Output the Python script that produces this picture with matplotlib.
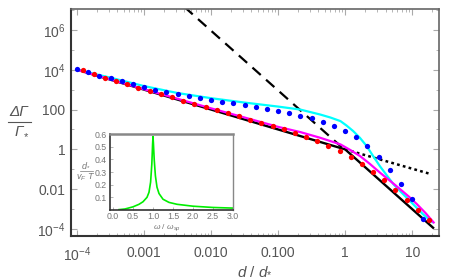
import matplotlib
matplotlib.use("Agg")
import matplotlib.pyplot as plt
from matplotlib.ticker import FixedLocator, FixedFormatter, NullFormatter
from matplotlib.lines import Line2D

plt.rcParams['font.family'] = ['Liberation Sans', 'DejaVu Sans']
plt.rcParams['mathtext.fontset'] = 'custom'
plt.rcParams['mathtext.rm'] = 'Liberation Sans'
plt.rcParams['mathtext.it'] = 'Liberation Sans:italic'
plt.rcParams['mathtext.bf'] = 'Liberation Sans:bold'

# ---------------- data ----------------
blue_d = [1.0e-4, 1.468e-4, 2.154e-4, 3.162e-4, 4.642e-4, 6.813e-4,
          1.0e-3, 1.468e-3, 2.154e-3, 3.162e-3, 4.642e-3, 6.813e-3,
          0.01, 0.01468, 0.02154, 0.03162, 0.04642, 0.06813,
          0.1, 0.1468, 0.2154, 0.3162, 0.4642, 0.6813,
          1.0, 1.468, 2.154, 3.162, 4.642, 6.813, 10.0, 14.68]
blue_y = [10700, 7590, 5130, 3630, 2570, 1820,
          1350, 1000, 794, 575, 457, 363,
          288, 240, 204, 170, 141, 112,
          85, 68, 50, 38, 24, 14.5,
          8.1, 4.0, 1.45, 0.42, 0.093, 0.018, 0.0032, 3.2e-4]

red_d = [1.212e-4, 1.778e-4, 2.610e-4, 3.831e-4, 5.623e-4, 8.254e-4,
         1.212e-3, 1.778e-3, 2.610e-3, 3.831e-3, 5.623e-3, 8.254e-3,
         0.01212, 0.01778, 0.02610, 0.03831, 0.05623, 0.08254,
         0.1212, 0.1778, 0.2610, 0.3831, 0.5623, 0.8254,
         1.212, 1.778, 2.610, 3.831, 5.623, 8.254, 12.12, 17.78]
red_y = [9330, 6170, 3800, 2820, 1910, 1200,
         891, 603, 407, 282, 200, 135,
         100, 66, 47, 31.6, 21.4, 14.8,
         10, 6.8, 4.3, 2.6, 1.48, 0.83,
         0.43, 0.19, 0.076, 0.028, 0.0093, 0.00295, 0.00093, 2.8e-4]

cyan_d = [1e-4, 3.16e-4, 1e-3, 3.16e-3, 0.01, 0.0316, 0.1, 0.214, 0.427, 0.603,
          0.851, 1.047, 1.318, 1.66, 2.09, 2.63, 3.31, 4.17, 5.25, 7.08, 9.33,
          14.45, 19.95]
cyan_y = [1e4, 3980, 1510, 676, 372, 224, 141, 100, 56, 39.8,
          26.3, 15.8, 8.3, 3.8, 1.48, 0.447, 0.141, 0.0501, 0.0178, 0.0063, 0.00251,
          5.6e-4, 2.24e-4]

magenta_d = [1e-4, 1e-3, 0.01, 0.0316, 0.1, 0.214, 0.427, 0.851, 1.175,
             1.66, 2.34, 3.31, 4.68, 6.61, 8.91, 11.75, 15.85, 20.9]
magenta_y = [1e4, 1047, 115, 39.8, 13.5, 7.41, 3.8, 1.78, 0.955,
             0.468, 0.186, 0.0676, 0.0263, 0.01, 0.00427, 0.00178, 6.3e-4, 2.14e-4]

black_d = [1e-4, 1.0, 20.5]
black_y = [1e4, 1.0, 1.16e-4]

dashed_d = [0.004, 0.89]
dashed_y = [1.42e7, 1.29]

dotted_d = [1.0, 19.5]
dotted_y = [1.0, 0.056]

x_ticks = [1e-4, 1e-3, 1e-2, 1e-1, 1, 10]
x_tick_labels = [r'$10^{-4}$', '0.001', '0.010', '0.100', '1', '10']
y_ticks = [1e-4, 1e-2, 1, 100, 1e4, 1e6]
y_tick_labels = [r'$10^{-4}$', '0.01', '1', '100', r'$10^{4}$', r'$10^{6}$']

inset_w = [0.15, 0.3, 0.5, 0.65, 0.75, 0.85, 0.9, 0.94, 0.97, 0.99, 1.0,
           1.01, 1.03, 1.06, 1.1, 1.15, 1.25, 1.4, 1.6, 2.0, 2.5, 3.0]
inset_v = [0.003, 0.008, 0.025, 0.045, 0.065, 0.1, 0.14, 0.22, 0.36, 0.52, 0.58,
           0.53, 0.4, 0.27, 0.18, 0.13, 0.085, 0.06, 0.045, 0.03, 0.02, 0.015]
inset_xticks = [0.0, 0.5, 1.0, 1.5, 2.0, 2.5, 3.0]
inset_yticks = [0.1, 0.2, 0.3, 0.4, 0.5, 0.6]

# ---------------- figure ----------------
fig = plt.figure(figsize=(4.5, 2.8), dpi=100)
ax = fig.add_axes([71/450, 44/280, 368/450, 227/280])

txt = '#555555'
ax.plot(dashed_d, dashed_y, color='black', lw=1.6, ls=(0, (5, 3.2)), zorder=2)
ax.plot(dotted_d, dotted_y, color='black', lw=1.8, ls=(0, (1.1, 1.3)), zorder=2)
ax.plot(black_d, black_y, color='black', lw=1.7, zorder=3)
ax.plot(cyan_d, cyan_y, color='#00FFFF', lw=1.6, zorder=3)
ax.plot(magenta_d, magenta_y, color='#FF00FF', lw=1.6, zorder=3)
ax.plot(blue_d, blue_y, 'o', color='#0000FF', ms=3.8, mew=0, zorder=4)
ax.plot(red_d, red_y, 'o', color='#FF0000', ms=3.8, mew=0, zorder=5)

ax.set_xscale('log')
ax.set_yscale('log')
ax.set_xlim(10**-4.09, 10**1.4)
ax.set_ylim(10**-4.35, 10**7.05)

ax.xaxis.set_major_locator(FixedLocator(x_ticks))
ax.xaxis.set_major_formatter(FixedFormatter(x_tick_labels))
minor_x = [m * 10.0**e for e in range(-4, 2) for m in range(2, 10)]
ax.xaxis.set_minor_locator(FixedLocator(minor_x))
ax.xaxis.set_minor_formatter(NullFormatter())
ax.yaxis.set_major_locator(FixedLocator(y_ticks))
ax.yaxis.set_major_formatter(FixedFormatter(y_tick_labels))
ax.yaxis.set_minor_locator(FixedLocator([10.0**e for e in range(-3, 8, 2)]))
ax.yaxis.set_minor_formatter(NullFormatter())

ax.tick_params(which='both', direction='in', top=True, right=True,
               color='#aaaaaa', labelcolor=txt, labelsize=10)
ax.tick_params(which='major', length=4, width=0.8)
ax.tick_params(which='minor', length=2, width=0.6)
ax.tick_params(axis='x', pad=7)
ax.tick_params(axis='y', pad=4)
for s in ['left', 'bottom']:
    ax.spines[s].set_color('#333333')
    ax.spines[s].set_linewidth(1.5)
for s in ['top', 'right']:
    ax.spines[s].set_color('#666666')
    ax.spines[s].set_linewidth(1.2)

fig.text(255/450, 1 - 271/280, r'$\mathit{d}\ /\ \mathit{d}_{*}$', ha='center', va='center',
         fontsize=11, color=txt)

# y label as fraction
fig.text(19/450, 1 - 112/280, 'ΔΓ', style='italic', ha='center', va='center',
         fontsize=11, color=txt)
fig.add_artist(Line2D([8/450, 31/450], [1 - 122/280, 1 - 122/280], color=txt, lw=0.8))
fig.text(19/450, 1 - 132/280, 'Γ', style='italic', ha='center', va='center',
         fontsize=11, color=txt)
fig.text(25.5/450, 1 - 137/280, '*', ha='center', va='center',
         fontsize=8, color=txt)

# ---------------- inset ----------------
ins = fig.add_axes([110/450, 70/280, 123/450, 76/280])
ins.set_facecolor('white')
ins.plot(inset_w, inset_v, color='#00EE00', lw=1.2)
ins.set_xlim(-0.075, 3.0)
ins.set_ylim(0.0, 0.6)
ins.set_xticks(inset_xticks)
ins.set_xticklabels(['%.1f' % v for v in inset_xticks])
ins.set_yticks(inset_yticks)
ins.set_yticklabels(['%.1f' % v for v in inset_yticks])
ins.tick_params(direction='in', length=2, width=0.6, color='#aaaaaa',
                labelcolor='#777777', labelsize=6.3, pad=2)
ins.tick_params(axis='x', pad=1.5)
for s in ['left', 'bottom']:
    ins.spines[s].set_color('#333333')
    ins.spines[s].set_linewidth(1.2)
ins.spines['top'].set_color('#888888')
ins.spines['top'].set_linewidth(1.8)
ins.spines['right'].set_color('#888888')
ins.spines['right'].set_linewidth(1.0)

fig.text(167/450, 1 - 228/280, r'$\mathit{ω}\ /\ \mathit{ω}_{sp}$', ha='center', va='center',
         fontsize=6, color='#777777')
fig.text(86/450, 1 - 165/280, r'$\mathit{d}_{*}$', ha='center', va='center',
         fontsize=6.5, color='#777777')
fig.add_artist(Line2D([80/450, 93/450], [1 - 171/280, 1 - 171/280], color='#777777', lw=0.5))
fig.text(86/450, 1 - 177/280, r'$\mathit{v}_{F}\ \mathit{T}$', ha='center', va='center',
         fontsize=6.5, color='#777777')

fig.savefig('out.png', dpi=100)
